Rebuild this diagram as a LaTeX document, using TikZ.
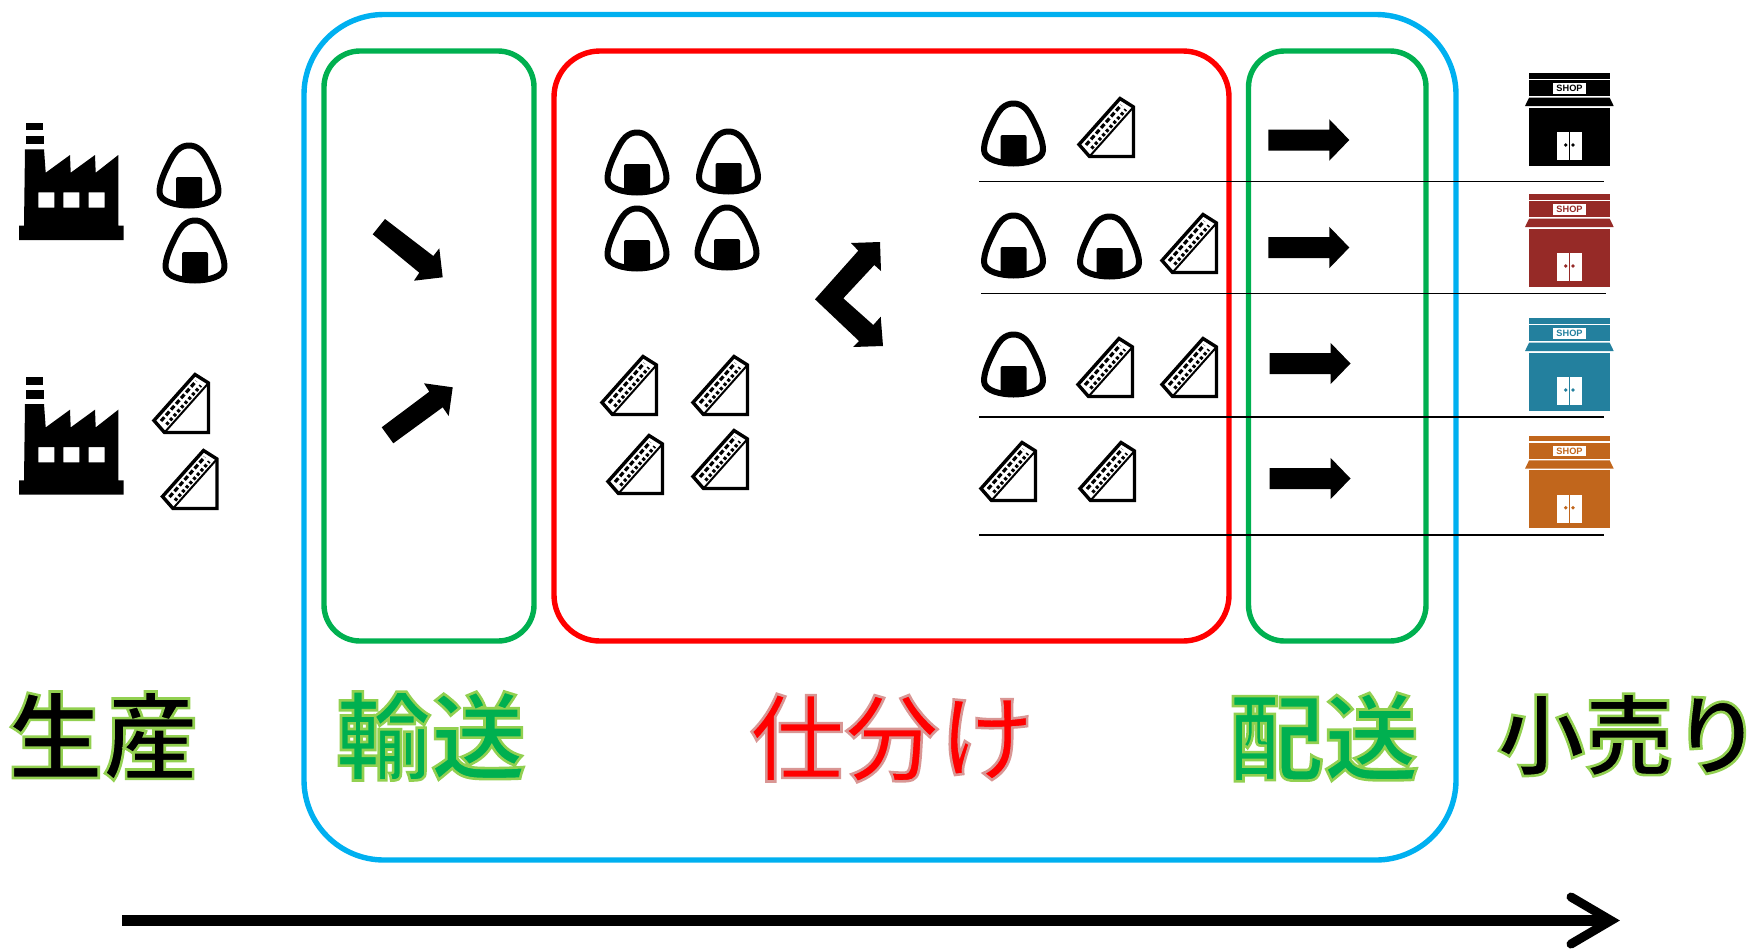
\documentclass[tikz,border=0pt]{standalone}
\usepackage{fontspec}
\setmainfont{Noto Sans}
\newfontfamily\jpmed{Noto Sans CJK JP Medium}
\newfontfamily\jpbold{Noto Sans CJK JP Bold}
\newfontfamily\shopfont{Liberation Sans Bold}
\definecolor{cyanline}{HTML}{00B0F0}
\definecolor{greenline}{HTML}{00B050}
\definecolor{redline}{HTML}{FF0000}
\definecolor{shopred}{HTML}{962A27}
\definecolor{shopteal}{HTML}{23809E}
\definecolor{shoporange}{HTML}{C1661C}
\newcommand{\outl}[2]{\special{pdf:code q 2 Tr 2.6 w #1 RG}#2\special{pdf:code Q}}
\tikzset{
  outerbox/.style={draw=cyanline,line width=5.4pt,rounded corners=80pt},
  greenbox/.style={draw=greenline,line width=5.4pt,rounded corners=36pt},
  redbox/.style={draw=redline,line width=5.4pt,rounded corners=46pt},
  thinrule/.style={draw=black,line width=1.8pt},
  blockshape/.style={fill=black,draw=none},
  bigtext/.style={inner sep=0pt,anchor=center,font=\fontsize{95}{95}\selectfont},
  onigiri/.pic={
    \draw[line width=6pt,line join=round] (0,-30.5) .. controls (9,-30.5) and (14.5,-24) .. (19,-15) .. controls (24,-5) and (29.5,6) .. (29.5,16) .. controls (29.5,26) and (12,29.5) .. (0,29.5) .. controls (-12,29.5) and (-29.5,26) .. (-29.5,16) .. controls (-29.5,6) and (-24,-5) .. (-19,-15) .. controls (-14.5,-24) and (-9,-30.5) .. (0,-30.5) -- cycle;
    \fill[rounded corners=2pt] (-13,1) rectangle (13,30);
  },
  sando/.pic={
    \draw[line width=3.4pt,line join=miter] (14,-30.5) -- (27.5,-22) -- (27.5,27.5) -- (-16.5,27.5) -- (-27,15.5) -- cycle;
    \draw[line width=2pt] (-16.5,27.5) -- (27.5,-22);
    \draw[line width=3.2pt,dash pattern=on 5pt off 2.6pt] (-20,16) -- (15.2,-24);
    \draw[line width=3.2pt,dash pattern=on 3pt off 2.6pt] (-14.5,19.5) -- (19.8,-19.5);
  },
  rarrow/.pic={
    \fill (0,-10.5) -- (61,-10.5) -- (61,-20.7) -- (81,0) -- (61,20.7) -- (61,10.5) -- (0,10.5) -- cycle;
  },
  factory/.pic={
    \fill (25.7,122.7) rectangle (43.3,130);
    \fill (25.7,135.7) rectangle (44,144);
    \fill[even odd rule] (25,149.3) -- (44,149.3) -- (45.7,172.7) -- (70,155) -- (70.7,172.7) -- (95,155) -- (95.7,172.7) -- (118.3,155) -- (118.3,225.7) -- (123.7,225.7) -- (123.7,240) -- (19,240) -- (19,225.7) -- (24,225.7) -- cycle
      (38.3,192.3) rectangle (54.3,207.7) (63.3,192.3) rectangle (79.3,207.7) (88.7,192.3) rectangle (104.7,207.7);
  },
}
\newcommand{\shopat}[3]{%
  \begin{scope}[shift={(0,#1)}]
    \fill[#2] (1529,73.3) rectangle (1609.7,78.7);
    \fill[#2] (1529,80) rectangle (1609.7,96);
    \fill[white] (1553.3,83.3) rectangle (1585.7,93.7);
    \node[text=#2,inner sep=0pt,font=\fontsize{9.2}{9.2}\shopfont] (#3) at (1569.5,88.6) {SHOP};
    \fill[#2] (1529,97.7) -- (1609.7,97.7) -- (1613.7,106) -- (1525,106) -- cycle;
    \fill[#2] (1529,107.7) rectangle (1609.7,165.7);
    \fill[white] (1556.7,132.3) rectangle (1582.3,160.3);
    \draw[#2,line width=0.7pt] (1569.5,132.3) -- (1569.5,160.3);
    \fill[#2] (1565.7,145) circle (1.9pt) (1573,145) circle (1.9pt);
  \end{scope}}
\begin{document}
\begin{tikzpicture}[x=1pt,y=-1pt]
\useasboundingbox (0,0) rectangle (1752,948);
% frames
\draw[outerbox] (304,14.5) rectangle (1456,860);
\draw[greenbox] (324,51) rectangle (534,641);
\draw[redbox] (554,51) rectangle (1229,641);
\draw[greenbox] (1248.5,51) rectangle (1426,641);
% rules
\coordinate (r1a) at (979,181.5); \coordinate (r1b) at (1604,181.5);
\coordinate (r2a) at (981,293.5); \coordinate (r2b) at (1606,293.5);
\coordinate (r3a) at (979,417); \coordinate (r3b) at (1604,417);
\coordinate (r4a) at (979,535); \coordinate (r4b) at (1604,535);
\draw[thinrule] (r1a) -- (r1b);
\draw[thinrule] (r2a) -- (r2b);
\draw[thinrule] (r3a) -- (r3b);
\draw[thinrule] (r4a) -- (r4b);
% factories
\pic at (0,0) {factory};
\pic at (0,254.7) {factory};
% onigiri
\foreach \p in {(189,176),(195,251),(637,163),(728.5,162),(637,239),(727,238),(1013.5,134),(1013.5,246),(1109.5,247),(1013.5,365)}
  \pic at \p {onigiri};
% sandwiches
\foreach \p in {(181,405),(189.5,481),(629,387),(720,387),(635,466),(720,461),(1106,129),(1189,245),(1105,369),(1189,369),(1008,473),(1107,473)}
  \pic at \p {sando};
% arrows
\pic at (1268.3,140) {rarrow};
\pic at (1268.3,247.5) {rarrow};
\pic at (1269.5,363.5) {rarrow};
\pic at (1269.5,478.5) {rarrow};
\fill[blockshape] (385,219) -- (372.7,234.3) -- (419.3,272.7) -- (414,280.7) -- (442.7,277.3) -- (439.3,248.3) -- (433.3,256) -- cycle;
\fill[blockshape] (381.7,427.3) -- (393.3,443.3) -- (442.7,407.3) -- (448.7,416) -- (452.7,387.3) -- (424,383.3) -- (429.3,391.7) -- cycle;
\fill[blockshape] (880,242) -- (851,243) -- (858.3,250.7) -- (815,299.3) -- (859,341) -- (853,347) -- (883,346) -- (880.7,316.7) -- (873.3,325) -- (843.3,298.3) -- (874.3,265) -- (881,271) -- cycle;
% shops
\shopat{0}{black}{s1}
\shopat{121}{shopred}{s2}
\shopat{245}{shopteal}{s3}
\shopat{362.7}{shoporange}{s4}
% labels
\node[bigtext,text=black] (t1) at (103,736) {\jpbold\outl{0.573 0.816 0.314}{生産}};
\node[bigtext,text=greenline] (t2) at (431,736) {\jpbold\outl{0.573 0.816 0.314}{輸送}};
\node[bigtext,text=redline] (t3) at (892,738) {\jpmed\outl{0.851 0.588 0.580}{仕分け}};
\node[bigtext,text=greenline] (t4) at (1324,737) {\jpbold\outl{0.573 0.816 0.314}{配送}};
\node[bigtext,text=black,font=\fontsize{88}{88}\selectfont] (t5) at (1622.5,735) {\jpbold\outl{0.573 0.816 0.314}{小売り}\hspace*{-13pt}};
% timeline
\coordinate (ta) at (122,920.5); \coordinate (tb) at (1611,920.5);
\coordinate (tc) at (1571,897); \coordinate (td) at (1571,944);
\draw[line width=11pt] (ta) -- (tb);
\draw[line width=9pt,line cap=round,line join=miter] (tc) -- (tb) -- (td);
\end{tikzpicture}
\end{document}
